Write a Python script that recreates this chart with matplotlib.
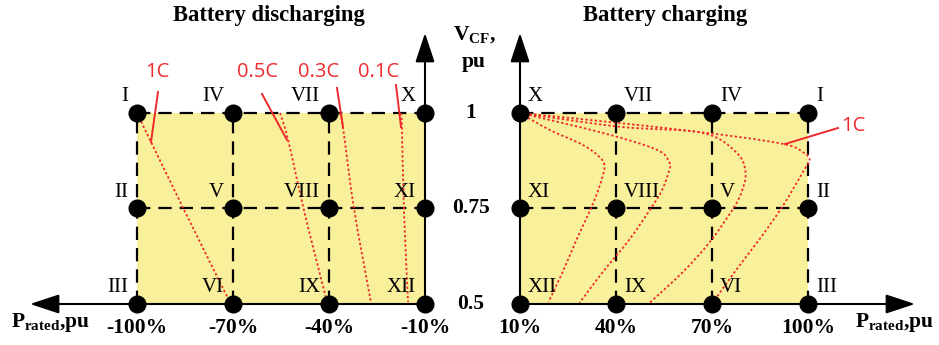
import matplotlib
matplotlib.use("Agg")
import matplotlib.pyplot as plt
from matplotlib.path import Path
from matplotlib.patches import PathPatch
import numpy as np

plt.rcParams['mathtext.fontset'] = 'custom'
plt.rcParams['mathtext.rm'] = 'Liberation Serif:bold'
plt.rcParams['mathtext.bf'] = 'Liberation Serif:bold'

# ---------------- data ----------------
dis_x = [-100, -70, -40, -10]          # discharging P_rated, %
chg_x = [10, 40, 70, 100]              # charging P_rated, %
v_levels = [1.0, 0.75, 0.5]            # V_CF, pu
dis_xticklabels = ["-100%", "-70%", "-40%", "-10%"]
chg_xticklabels = ["10%", "40%", "70%", "100%"]
v_ticklabels = ["1", "0.75", "0.5"]

# Roman labels, rows = V level (1, 0.75, 0.5), columns follow the x lists
dis_labels = [["I", "IV", "VII", "X"],
              ["II", "V", "VIII", "XI"],
              ["III", "VI", "IX", "XII"]]
chg_labels = [["X", "VII", "IV", "I"],
              ["XI", "VIII", "V", "II"],
              ["XII", "IX", "VI", "III"]]

# discharging curves (P %, V pu)
dis_1C_p = [-100, -85.5, -71]
dis_1C_v = [1.0, 0.75, 0.505]
dis_05C_p = [-55.3, -52.8, -48.1, -44.4, -40.6]
dis_05C_v = [1.0, 0.93, 0.755, 0.63, 0.505]
dis_03C_p = [-36.6, -35.6, -32.2, -26.9]
dis_03C_v = [1.0, 0.96, 0.75, 0.505]
dis_01C_p = [-17.5, -17.2, -16.6, -15.3]
dis_01C_v = [1.0, 0.96, 0.75, 0.505]
dis_rates = ["1C", "0.5C", "0.3C", "0.1C"]

# charging curves (P %, V pu)
chg_a_p = [10, 19.2, 29.5, 34.8, 36.4, 34.8, 32.3, 27.7, 23.3, 18.9]
chg_a_v = [1.0, 0.956, 0.917, 0.885, 0.859, 0.807, 0.753, 0.669, 0.583, 0.505]
chg_b_p = [10, 35.8, 52.7, 56.7, 56.7, 54.5, 51.1, 44.2, 35.8, 28.6]
chg_b_v = [1.0, 0.948, 0.904, 0.870, 0.852, 0.80, 0.753, 0.669, 0.583, 0.503]
chg_c_p = [10, 41.1, 67.0, 77.7, 80.5, 79.2, 76.4, 69.2, 60.8, 50.5]
chg_c_v = [1.0, 0.964, 0.948, 0.896, 0.844, 0.792, 0.747, 0.661, 0.583, 0.503]
chg_d_p = [10, 46.4, 77.7, 93.3, 98.3, 100.5, 98.3, 92.0, 84.8, 77.7, 70.2]
chg_d_v = [1.0, 0.969, 0.938, 0.917, 0.898, 0.878, 0.844, 0.755, 0.669, 0.591, 0.503]

# ---------------- style ----------------
W, H = 939, 345
DPI = 100
YELLOW = "#F8F09A"
RED = "#EE2A2D"
PXX = 3.2       # px per %
PXY = 382.0     # px per pu

fig = plt.figure(figsize=(W / DPI, H / DPI), dpi=DPI)
axL = fig.add_axes([0, 0, 470 / W, 1])
axR = fig.add_axes([470 / W, 0, 469 / W, 1])

ylim = (0.5 - 41 / PXY, 1 + 113 / PXY)
axL.set_xlim(-100 - 137 / PXX, -10 + 45 / PXX)
axR.set_xlim(10 - 50 / PXX, 100 + 131 / PXX)
for ax in (axL, axR):
    ax.set_ylim(*ylim)
    ax.axis("off")

serif = "Liberation Serif"
sans = "Open Sans"
dash_kw = dict(color="black", lw=1.6, dashes=(6, 3.6), zorder=3)
dot_kw = dict(edgecolor=RED, facecolor="none", lw=1.3, linestyle=(0, (1.3, 1.3)), zorder=4)
lead_kw = dict(color=RED, lw=1.4, zorder=4)
arrow_kw = dict(arrowstyle="-|>,head_length=1.0,head_width=0.33",
                color="black", lw=1.5, mutation_scale=18, shrinkA=0, shrinkB=0)


def smooth_curve(ax, xs, ys):
    """Draw a smooth Bezier curve through the given data points."""
    pts = np.column_stack([xs, ys]).astype(float)
    n = len(pts)
    verts = [pts[0]]
    codes = [Path.MOVETO]
    for i in range(n - 1):
        p0 = pts[i - 1] if i > 0 else pts[i]
        p1, p2 = pts[i], pts[i + 1]
        p3 = pts[i + 2] if i + 2 < n else pts[i + 1]
        c1 = p1 + (p2 - p0) / 6.0
        c2 = p2 - (p3 - p1) / 6.0
        verts += [c1, c2, p2]
        codes += [Path.CURVE4] * 3
    ax.add_patch(PathPatch(Path(verts, codes), **dot_kw))


def panel(ax, xs, labels, xticklabels, axis_x, left_side):
    x0, x1 = min(xs), max(xs)
    ax.fill_between([x0, x1], [0.5, 0.5], [1, 1], color=YELLOW, lw=0, zorder=1)
    for v in v_levels[:2]:
        ax.plot([x0, x1], [v, v], **dash_kw)
    for x in xs:
        if x != axis_x:
            ax.plot([x, x], [0.5, 1], **dash_kw)
    tip_y = 1 + 80 / PXY
    ax.annotate("", xy=(axis_x, tip_y), xytext=(axis_x, 0.5), arrowprops=arrow_kw, zorder=5)
    tip_x = -100 - 107 / PXX if left_side else 100 + 107 / PXX
    ax.annotate("", xy=(tip_x, 0.5), xytext=(axis_x, 0.5), arrowprops=arrow_kw, zorder=5)
    for i, v in enumerate(v_levels):
        for j, x in enumerate(xs):
            ax.plot(x, v, "o", color="black", ms=12, zorder=6)
            if left_side:
                ax.text(x - 9 / PXX, v + 16 / PXY, labels[i][j], ha="right", va="center",
                        fontsize=15, family=serif, zorder=7)
            else:
                ax.text(x + 8 / PXX, v + 16 / PXY, labels[i][j], ha="left", va="center",
                        fontsize=15, family=serif, zorder=7)
    for x, t in zip(xs, xticklabels):
        ax.text(x, 0.5 - 24 / PXY, t, ha="center", va="center", fontsize=15.5,
                family=serif, weight="bold")


panel(axL, dis_x, dis_labels, dis_xticklabels, -10, True)
panel(axR, chg_x, chg_labels, chg_xticklabels, 10, False)

for p, v in [(dis_1C_p, dis_1C_v), (dis_05C_p, dis_05C_v),
             (dis_03C_p, dis_03C_v), (dis_01C_p, dis_01C_v)]:
    smooth_curve(axL, p, v)


def px2L(px, py):
    return (-100 + (px - 137) / PXX, 1 - (py - 113) / PXY)


def px2R(px, py):
    return (10 + (px - 520) / PXX, 1 - (py - 113) / PXY)


dis_lab_px = [(157, 72), (258, 72), (319, 72), (379, 72)]
dis_lead_px = [((158, 92), (151, 142)), ((262, 94), (287, 140)),
               ((337, 88), (343, 127)), ((396, 85), (401, 127))]
for name, lp, (a, b) in zip(dis_rates, dis_lab_px, dis_lead_px):
    axL.text(*px2L(*lp), name, color=RED, ha="center", va="center", fontsize=14.5, family=sans)
    (ax0, ay0), (ax1, ay1) = px2L(*a), px2L(*b)
    axL.plot([ax0, ax1], [ay0, ay1], **lead_kw)

for p, v in [(chg_a_p, chg_a_v), (chg_b_p, chg_b_v), (chg_c_p, chg_c_v), (chg_d_p, chg_d_v)]:
    smooth_curve(axR, p, v)
axR.text(*px2R(853, 126), "1C", color=RED, ha="center", va="center", fontsize=14.5, family=sans)
(a0, b0), (a1, b1) = px2R(838, 128), px2R(785, 144)
axR.plot([a0, a1], [b0, b1], **lead_kw)

axL.text(*px2L(269, 15), "Battery discharging", ha="center", va="center",
         fontsize=16.3, family=serif, weight="bold")
axR.text(*px2R(665, 15), "Battery charging", ha="center", va="center",
         fontsize=16.3, family=serif, weight="bold")

for v, t in zip(v_levels, v_ticklabels):
    fig.text(471 / W, 1 - (113 + (1 - v) * PXY) / H, t, ha="center", va="center",
             fontsize=15.5, family=serif, weight="bold")
fig.text(474 / W, 1 - 35 / H, r"$\mathbf{V_{CF}}$,", ha="center", va="center",
         fontsize=15.5, family=serif, weight="bold")
fig.text(474 / W, 1 - 62 / H, "pu", ha="center", va="center",
         fontsize=15.5, family=serif, weight="bold")

fig.text(50 / W, 1 - 323 / H, r"$\mathbf{P_{rated}}$,pu", ha="center", va="center",
         fontsize=15.5, family=serif, weight="bold")
fig.text(894 / W, 1 - 323 / H, r"$\mathbf{P_{rated}}$,pu", ha="center", va="center",
         fontsize=15.5, family=serif, weight="bold")

fig.savefig("out.png", dpi=DPI)
